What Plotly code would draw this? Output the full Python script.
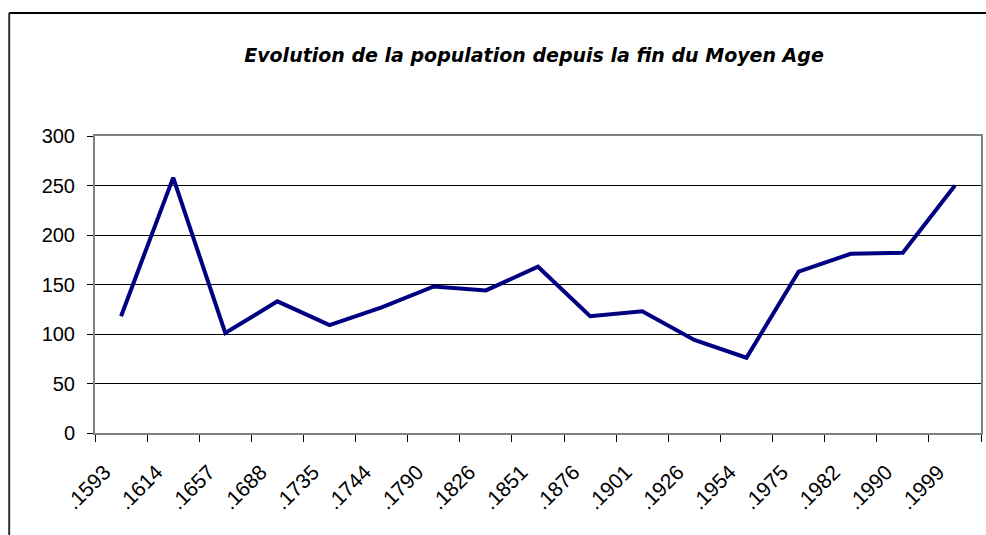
import plotly.graph_objects as go

years = ["1593", "1614", "1657", "1688", "1735", "1744", "1790", "1826", "1851",
         "1876", "1901", "1926", "1954", "1975", "1982", "1990", "1999"]
population = [118, 258, 101, 133, 109, 127, 148, 144, 168, 118, 123, 94, 76, 163, 181, 182, 250]
y_ticks = [0, 50, 100, 150, 200, 250, 300]

tick_labels = ["." + y + "\u00a0" * 4 for y in years]

W, H = 986, 535
L, R, T, B = 95, 3, 136, 102
pw, ph = W - L - R, H - T - B

def px_x(p):
    return (p - L) / pw

def px_y(p):
    return (H - B - p) / ph

fig = go.Figure()
fig.add_trace(go.Scatter(
    x=tick_labels, y=population, mode="lines",
    line=dict(color="#000080", width=4),
    hoverinfo="y", showlegend=False,
))

fig.update_layout(
    width=W, height=H,
    margin=dict(l=L, r=R, t=T, b=B),
    paper_bgcolor="white", plot_bgcolor="white",
    font=dict(family="Liberation Sans, Arial", size=20, color="black"),
    title=dict(
        text="<b><i>Evolution de la population depuis la fin du Moyen Age</i></b>",
        font=dict(family="Comic Sans MS, DejaVu Sans", size=19, color="black"),
        x=px_x(535), xref="paper", xanchor="center",
        y=1 - 55 / H, yanchor="middle",
    ),
    xaxis=dict(
        type="category", range=[-0.5, len(years) - 0.5],
        tickangle=-45, tickson="boundaries", ticks="outside", ticklen=7,
        tickcolor="black", tickwidth=1,
        showline=True, linecolor="#808080", linewidth=2, mirror=True,
        showgrid=False, zeroline=False,
        tickfont=dict(family="Liberation Sans, Arial", size=21),
    ),
    yaxis=dict(
        range=[0, 300], tickvals=y_ticks, ticks="outside", ticklen=6,
        tickcolor="black", tickwidth=1,
        showline=True, linecolor="#808080", linewidth=2, mirror=True,
        showgrid=True, gridcolor="black", gridwidth=1, zeroline=False,
        ticklabelstandoff=8,
        tickfont=dict(family="Liberation Sans, Arial", size=20),
    ),
    shapes=[
        dict(type="line", xref="paper", yref="paper",
             x0=px_x(9), x1=px_x(990), y0=px_y(13), y1=px_y(13),
             line=dict(color="black", width=2)),
        dict(type="line", xref="paper", yref="paper",
             x0=px_x(9), x1=px_x(9), y0=px_y(13), y1=px_y(540),
             line=dict(color="#303030", width=2)),
    ],
)

fig.write_html(
    "out.html",
    config={"displayModeBar": False},
    post_script="document.body.style.margin='0';document.body.style.overflow='hidden';",
)
